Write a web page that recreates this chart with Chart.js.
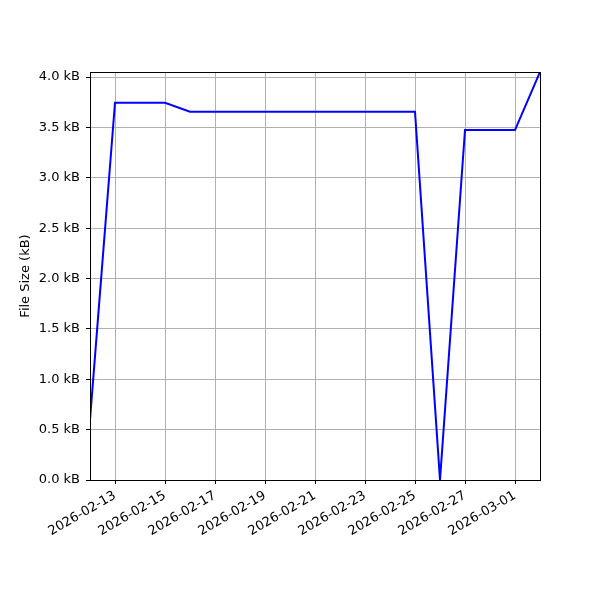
<!DOCTYPE html>
<html><head><meta charset="utf-8">
<script src="https://cdn.jsdelivr.net/npm/chart.js@4"></script>
<style>html,body{margin:0;padding:0;background:#fff}#wrap{width:600px;height:600px}</style>
</head><body><div id="wrap"><canvas id="c" width="600" height="600"></canvas></div>
<script>
const dates = ['2026-02-12','2026-02-13','2026-02-14','2026-02-15','2026-02-16','2026-02-17','2026-02-18','2026-02-19','2026-02-20','2026-02-21','2026-02-22','2026-02-23','2026-02-24','2026-02-25','2026-02-26','2026-02-27','2026-02-28','2026-03-01','2026-03-02'];
const sizesKB = [0.60,3.745,3.745,3.745,3.655,3.655,3.655,3.655,3.655,3.655,3.655,3.655,3.655,3.655,0.0,3.474,3.474,3.474,4.05];
const tickDates = ['2026-02-13','2026-02-15','2026-02-17','2026-02-19','2026-02-21','2026-02-23','2026-02-25','2026-02-27','2026-03-01'];
const yTicks = [0,0.5,1.0,1.5,2.0,2.5,3.0,3.5,4.0];

const DAY = 86400000;
const toDay = s => Date.parse(s + 'T00:00:00Z') / DAY;
const fmt = d => new Date(Math.round(d) * DAY).toISOString().slice(0,10);
const pts = dates.map((d,i) => ({x: toDay(d), y: sizesKB[i]}));

const frame = {
  id:'frame',
  afterDatasetsDraw(chart){
    const {ctx, chartArea:a} = chart;
    ctx.save(); ctx.strokeStyle='#000'; ctx.lineWidth=1;
    ctx.strokeRect(Math.round(a.left)+0.5, Math.round(a.top)+0.5, Math.round(a.right-a.left), Math.round(a.bottom-a.top));
    ctx.restore();
  }
};
Chart.defaults.font.family = 'DejaVu Sans';
Chart.defaults.font.size = 13;
Chart.defaults.color = '#000';
new Chart(document.getElementById('c'), {
  type:'line',
  data:{datasets:[{data:pts, borderColor:'#0000ff', borderWidth:2, pointRadius:0, fill:false, tension:0}]},
  options:{
    responsive:false, animation:false,
    layout:{padding:{left:0, top:72, right:60, bottom:0}},
    plugins:{legend:{display:false}, tooltip:{enabled:false}},
    scales:{
      x:{type:'linear', min:toDay(dates[0]), max:toDay(dates[dates.length-1]),
        afterBuildTicks(s){ s.ticks = tickDates.map(d => ({value: toDay(d)})); },
        afterFit(s){ s.height = 120; },
        ticks:{autoSkip:false, maxRotation:30, minRotation:30, padding:4, callback:v => fmt(v)},
        grid:{color:'#b0b0b0', lineWidth:1, tickLength:4, tickColor:'#000'},
        border:{color:'#000'}
      },
      y:{min:0, max:Math.max(...sizesKB),
        afterBuildTicks(s){ s.ticks = yTicks.map(v => ({value:v})); },
        afterFit(s){ s.width = 90; },
        ticks:{padding:6, callback:v => v.toFixed(1) + ' kB'},
        grid:{color:'#b0b0b0', lineWidth:1, tickLength:4, tickColor:'#000'},
        border:{color:'#000'},
        title:{display:true, text:'File Size (kB)', font:{size:13}, padding:{top:18,bottom:4}}
      }
    }
  },
  plugins:[frame]
});
</script></body></html>
